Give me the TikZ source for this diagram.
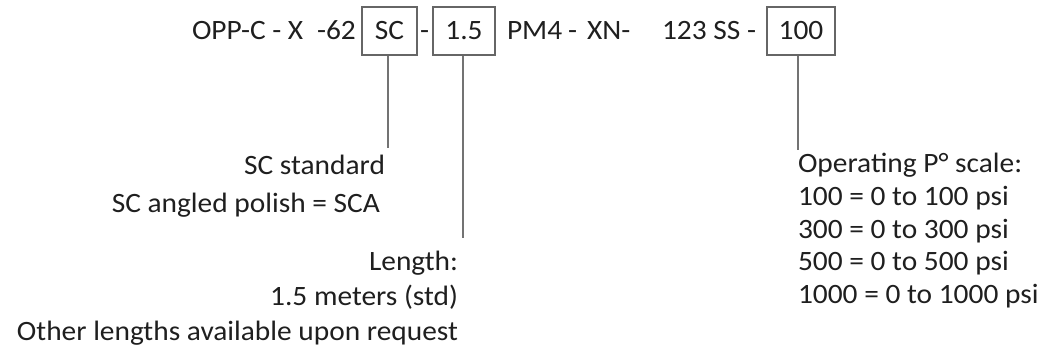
\documentclass[tikz,border=0pt]{standalone}
\usepackage{fontspec}
\setmainfont[FakeStretch=1.05]{Carlito}
\begin{document}
\begin{tikzpicture}[x=1pt,y=-1pt,
  txt/.style={inner sep=0pt,outer sep=0pt,font=\fontsize{28}{32}\selectfont,text=black!88},
  codebox/.style={draw=black!60,line width=1.2pt,inner sep=0pt,minimum height=48pt,font=\fontsize{28}{32}\selectfont,text=black!88},
  lead/.style={draw=black!55,line width=1.4pt}]
\useasboundingbox (0,0) rectangle (1049,359);
% top code line
\node[txt,anchor=base west] (p1) at (192,39) {OPP-C - X};
\node[txt,anchor=base west] (p2) at (317,39) {-62};
\node[codebox,minimum width=55pt] (sc) at (389.5,31) {SC};
\node[txt,anchor=base west] (p3) at (420,39) {-};
\node[codebox,minimum width=62pt] (len) at (464,31) {1.5};
\node[txt,anchor=base west] (p4) at (507,39) {PM4};
\node[txt,anchor=base west] (p5) at (568,39) {-\hspace{10pt}XN-};
\node[txt,anchor=base west] (p6) at (662,39) {123 SS -};
\node[codebox,minimum width=68pt] (psi) at (801,31) {100};
% connector ends
\coordinate (scend) at (388,148);
\coordinate (lenend) at (463,238);
\coordinate (psiend) at (798,150);
\draw[lead] (sc.south -| scend) -- (scend);
\draw[lead] (len.south -| lenend) -- (lenend);
\draw[lead] (psi.south -| psiend) -- (psiend);
% SC notes
\node[txt,anchor=base east] (sc1) at (385,174) {SC standard};
\node[txt,anchor=base east] (sc2) at (380,212) {SC angled polish = SCA};
% length notes
\node[txt,anchor=base east] (l1) at (458,270) {Length:};
\node[txt,anchor=base east] (l2) at (458,305) {1.5 meters (std)};
\node[txt,anchor=base east] (l3) at (458,340) {Other lengths available upon request};
% pressure notes
\node[txt,anchor=base west] (r1) at (798,172) {Operating P° scale:};
\node[txt,anchor=base west] (r2) at (798,205) {100 = 0 to 100 psi};
\node[txt,anchor=base west] (r3) at (798,238) {300 = 0 to 300 psi};
\node[txt,anchor=base west] (r4) at (798,270) {500 = 0 to 500 psi};
\node[txt,anchor=base west] (r5) at (798,303) {1000 = 0 to 1000 psi};
\end{tikzpicture}
\end{document}
